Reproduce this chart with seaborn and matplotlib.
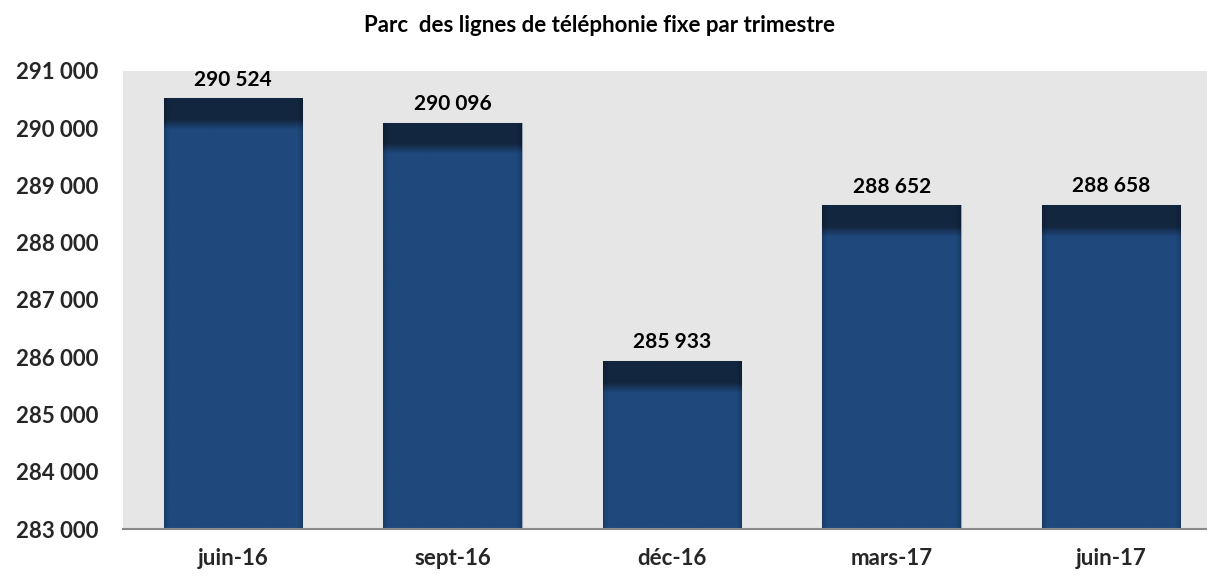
import numpy as np
import pandas as pd
import matplotlib
matplotlib.use("Agg")
import matplotlib.pyplot as plt
import seaborn as sns
from matplotlib.colors import to_rgb

# Données du graphique
trimestres = ["juin-16", "sept-16", "déc-16", "mars-17", "juin-17"]
lignes_fixes = [290524, 290096, 285933, 288652, 288658]
y_ticks = [283000, 284000, 285000, 286000, 287000, 288000, 289000, 290000, 291000]

TITRE = "Parc  des lignes de téléphonie fixe par trimestre"
BLEU = "#1f497d"
BLEU_FONCE = "#13263f"
FOND = "#e6e6e6"


def fmt(v):
    return f"{v:,}".replace(",", " ")


sns.set_theme(style="white")
plt.rcParams["font.family"] = ["Lato", "DejaVu Sans"]

df = pd.DataFrame({"trimestre": trimestres, "lignes": lignes_fixes})

fig = plt.figure(figsize=(12.07, 5.76), dpi=100)
ax = fig.add_axes([123 / 1207, 1 - 529 / 576, 1 - 123 / 1207, (529 - 71) / 576])
ax.set_facecolor(FOND)

sns.barplot(data=df, x="trimestre", y="lignes", color=BLEU, width=0.63,
            saturation=1, ax=ax, edgecolor="#9aa5b5", linewidth=0.8, zorder=2)

ax.set_ylim(y_ticks[0], y_ticks[-1])
ax.set_xlim(-0.5, 4.436)

# dégradé sombre en haut des barres
base = np.array(to_rgb(BLEU))
fonce = np.array(to_rgb(BLEU_FONCE))
unit_px = (529 - 71) / (y_ticks[-1] - y_ticks[0])
for patch, val in zip(ax.patches, lignes_fixes):
    x0 = patch.get_x()
    w = patch.get_width()
    h_px = int((val - y_ticks[0]) * unit_px)
    rows = np.arange(h_px)  # distance depuis le haut, en px
    t = np.clip((rows - 21) / 10.0, 0, 1)
    col = fonce[None, :] * (1 - t[:, None]) + base[None, :] * t[:, None]
    nx = 140
    xs = np.linspace(0, 1, nx)
    edge = np.minimum(xs, 1 - xs) * nx
    shade = 1 - 0.18 * np.clip(1 - edge / 5.0, 0, 1)
    img = col[:, None, :] * shade[None, :, None]
    im = ax.imshow(img, extent=[x0, x0 + w, y_ticks[0], val], aspect="auto",
                   origin="upper", zorder=2.5, interpolation="bilinear")
    im.set_clip_path(patch)
    ax.text(x0 + w / 2, val + 150, fmt(val), ha="center", va="bottom",
            fontsize=15, fontweight="bold", color="black", zorder=4)

ax.set_yticks(y_ticks)
ax.set_yticklabels([fmt(v) for v in y_ticks], fontweight="bold", fontsize=16)
ax.set_xticks(range(len(trimestres)))
ax.set_xticklabels(trimestres, fontweight="bold", fontsize=16)
ax.tick_params(axis="y", length=0, pad=18)
ax.tick_params(axis="x", length=0, pad=14)
ax.set_xlabel("")
ax.set_ylabel("")
for s in ["top", "right", "left"]:
    ax.spines[s].set_visible(False)
ax.spines["bottom"].set_color("#898989")
ax.spines["bottom"].set_linewidth(1.5)
ax.spines["bottom"].set_zorder(5)

fig.text(600 / 1207, 1 - 25 / 576, TITRE, ha="center", va="center",
         fontsize=16, fontweight="bold", color="black")

fig.savefig("out.png", dpi=100)
